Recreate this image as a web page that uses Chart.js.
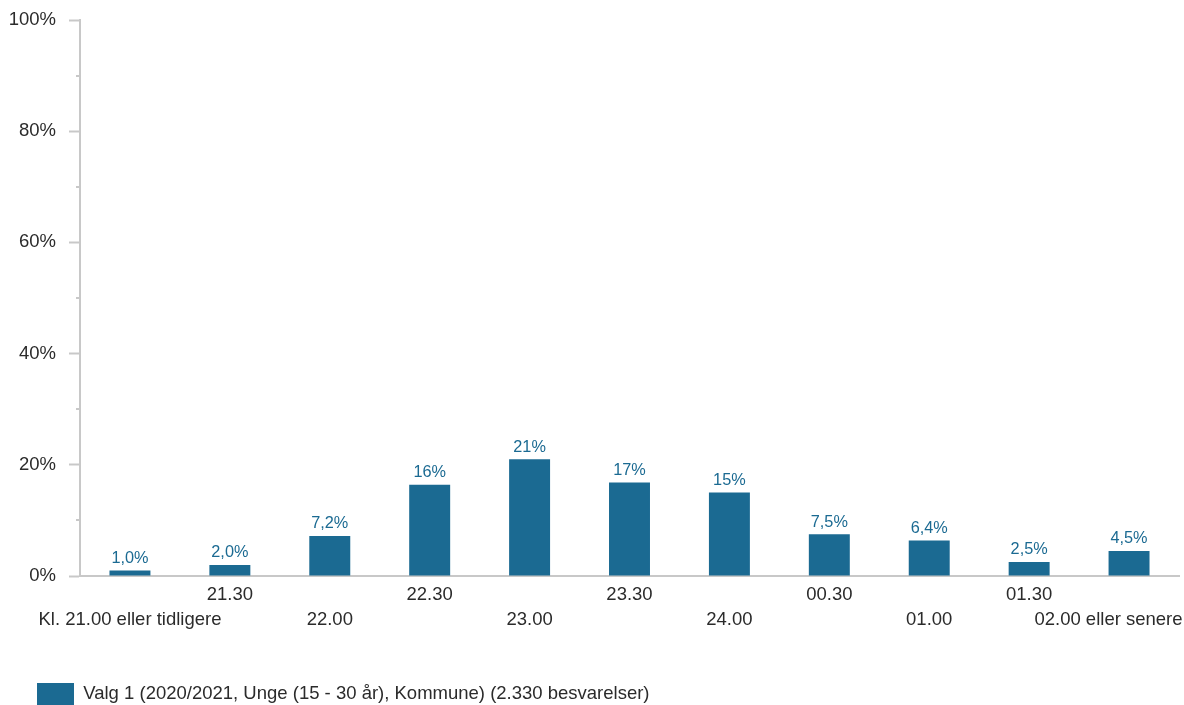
<!DOCTYPE html>
<html lang="no">
<head>
  <meta charset="UTF-8">
  <script src="https://cdn.jsdelivr.net/npm/chart.js@4"></script>
  <title>Valg 1</title>
  <style>
    body { margin: 0; background: #fff; }
    .container { width: 1184px; height: 705px; }
  </style>
</head>
<body>
  <div class="container">
    <canvas id="sleepChart"></canvas>
  </div>
  <script>
    const categories = [
      'Kl. 21.00 eller tidligere', '21.30', '22.00', '22.30', '23.00', '23.30',
      '24.00', '00.30', '01.00', '01.30', '02.00 eller senere'
    ];
    const values = [1.0, 2.0, 7.2, 16.4, 21.0, 16.8, 15.0, 7.5, 6.4, 2.5, 4.5];
    const seriesName = 'Valg 1 (2020/2021, Unge (15 - 30 år), Kommune) (2.330 besvarelser)';
    const yTicks = [0, 20, 40, 60, 80, 100];

    const barColor = '#1b6a92';
    const axisColor = '#c8c8c8';
    const textColor = '#2b2b2b';
    const fontFamily = '"Liberation Sans", Arial, sans-serif';

    function pctLabel(v) {
      if (v >= 10) return Math.round(v) + '%';
      return v.toFixed(1).replace('.', ',') + '%';
    }

    // value labels above bars
    const barLabels = {
      id: 'barLabels',
      afterDatasetsDraw(chart) {
        const ctx = chart.ctx;
        const meta = chart.getDatasetMeta(0);
        ctx.save();
        ctx.fillStyle = barColor;
        ctx.font = '16.3px ' + fontFamily;
        ctx.textAlign = 'center';
        ctx.textBaseline = 'bottom';
        meta.data.forEach((bar, i) => {
          ctx.fillText(pctLabel(values[i]), bar.x, bar.y - 4);
        });
        ctx.restore();
      }
    };

    // short minor ticks on y axis (every 10%)
    const minorTicks = {
      id: 'minorTicks',
      afterDraw(chart) {
        const y = chart.scales.y;
        const ctx = chart.ctx;
        ctx.save();
        ctx.strokeStyle = axisColor;
        ctx.lineWidth = 2;
        for (let v = 10; v < 100; v += 20) {
          const py = Math.round(y.getPixelForValue(v));
          ctx.beginPath();
          ctx.moveTo(y.right - 4, py);
          ctx.lineTo(y.right, py);
          ctx.stroke();
        }
        ctx.restore();
      }
    };

    const ctx = document.getElementById('sleepChart').getContext('2d');
    new Chart(ctx, {
      type: 'bar',
      data: {
        labels: categories,
        datasets: [{
          label: seriesName,
          data: values,
          backgroundColor: barColor,
          barPercentage: 0.41,
          categoryPercentage: 1.0
        }]
      },
      options: {
        responsive: true,
        maintainAspectRatio: false,
        animation: false,
        layout: { padding: { top: 20, right: 5, left: 0, bottom: -10 } },
        font: { family: fontFamily },
        plugins: {
          tooltip: { enabled: false },
          legend: {
            position: 'bottom',
            align: 'start',
            labels: {
              boxWidth: 37,
              boxHeight: 22,
              padding: 37,
              color: textColor,
              font: { size: 18.5, family: fontFamily }
            }
          }
        },
        scales: {
          x: {
            grid: { display: false, drawTicks: false },
            border: { color: axisColor, width: 2 },
            afterFit(scale) {
              scale.paddingLeft = 0;
              scale.paddingRight = 0;
              scale.height = 70;
            },
            ticks: {
              autoSkip: false,
              maxRotation: 0,
              minRotation: 0,
              padding: 6,
              color: textColor,
              font: { size: 18.5, lineHeight: 1.35, family: fontFamily },
              callback(v, i) {
                let lbl = categories[i];
                if (i === categories.length - 1) lbl = lbl + '\u00a0'.repeat(8);
                return i % 2 === 0 ? ['', lbl] : [lbl];
              }
            }
          },
          y: {
            min: 0,
            max: 100,
            afterFit(scale) {
              scale.width = 80;
              scale.paddingTop = 0;
              scale.paddingBottom = 0;
            },
            afterBuildTicks(scale) {
              scale.ticks = yTicks.map(v => ({ value: v }));
            },
            grid: {
              drawOnChartArea: false,
              tickLength: 11,
              tickWidth: 2,
              tickColor: axisColor
            },
            border: { color: axisColor, width: 2 },
            ticks: {
              padding: 13,
              color: textColor,
              font: { size: 18.5, family: fontFamily },
              callback: v => v + '%'
            }
          }
        }
      },
      plugins: [barLabels, minorTicks]
    });
  </script>
</body>
</html>
